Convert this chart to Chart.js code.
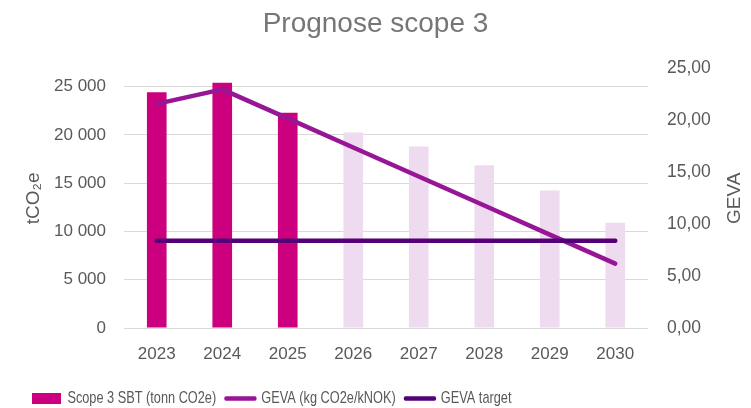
<!DOCTYPE html>
<html>
<head>
<meta charset="utf-8">
<script src="https://cdn.jsdelivr.net/npm/chart.js@4"></script>
<style>
  body { margin: 0; background: #fff; }
  #wrap { width: 751px; height: 408px; }
</style>
</head>
<body>
<div id="wrap"><canvas id="myChart" width="751" height="408"></canvas></div>
<script>
const years = ['2023', '2024', '2025', '2026', '2027', '2028', '2029', '2030'];
const scope3 = [24400, 25400, 22300, 20250, 18800, 16850, 14250, 10900];
const geva = [21.6, 23.0, 20.2, 17.4, 14.6, 11.8, 9.0, 6.2];
const gevaTarget = [8.4, 8.4, 8.4, 8.4, 8.4, 8.4, 8.4, 8.4];
const actualYears = 3; // first three bars are actual figures, rest is forecast
const leftTicks = [0, 5000, 10000, 15000, 20000, 25000];

const darkPink = 'rgb(204, 0, 126)';
const lightPink = 'rgb(239, 219, 239)';
const gevaColor = 'rgb(150, 22, 150)';
const targetColor = 'rgb(84, 0, 120)';
const grey = '#595959';
const mainFont = '"Liberation Sans", Arial, sans-serif';

// legend in the original is a narrow font, squeeze it sideways
const legendScale = 0.75;
const legendLeft = 32;
const legendShift = 9;

function thousands(v) {
  return String(v).replace(/\B(?=(\d{3})+(?!\d))/g, ' ');
}

const barColors = years.map((y, i) => i < actualYears ? darkPink : lightPink);

const narrowLegend = {
  id: 'narrowLegend',
  beforeDraw(chart) {
    const legend = chart.legend;
    if (!legend || legend._narrow) return;
    const orig = legend.draw.bind(legend);
    const pad = chart.options.plugins.legend.labels.padding;
    legend.draw = function (area) {
      const c = chart.ctx;
      c.save();
      c.translate(legendLeft - legendScale * (legend.left + pad), legendShift);
      c.scale(legendScale, 1);
      orig(area);
      c.restore();
    };
    legend._narrow = true;
  },
  afterDraw(chart) {
    // right axis title reads bottom to top like the left one
    const c = chart.ctx;
    const area = chart.chartArea;
    c.save();
    c.translate(735, (area.top + area.bottom) / 2);
    c.rotate(-Math.PI / 2);
    c.textAlign = 'center';
    c.textBaseline = 'middle';
    c.fillStyle = grey;
    c.font = '19px ' + mainFont;
    c.fillText('GEVA', 0, 0);
    c.restore();
  }
};

const ctx = document.getElementById('myChart');
const myChart = new Chart(ctx, {
  type: 'bar',
  data: {
    labels: years,
    datasets: [
      {
        label: 'Scope 3 SBT (tonn CO2e)',
        data: scope3,
        backgroundColor: barColors,
        yAxisID: 'y',
        barPercentage: 0.6,
        categoryPercentage: 0.5,
        order: 3
      },
      {
        type: 'line',
        label: 'GEVA (kg CO2e/kNOK)',
        data: geva,
        borderColor: gevaColor,
        borderWidth: 4.5,
        borderCapStyle: 'round',
        borderJoinStyle: 'round',
        pointRadius: 0,
        yAxisID: 'y1',
        order: 2
      },
      {
        type: 'line',
        label: 'GEVA target',
        data: gevaTarget,
        borderColor: targetColor,
        borderWidth: 4.5,
        borderCapStyle: 'round',
        pointRadius: 0,
        yAxisID: 'y1',
        order: 1
      }
    ]
  },
  options: {
    responsive: false,
    animation: false,
    layout: { padding: { left: 0, right: 0, top: 0, bottom: 0 } },
    plugins: {
      tooltip: { enabled: false },
      title: {
        display: true,
        text: 'Prognose scope 3',
        color: '#767676',
        font: { family: mainFont, size: 28, weight: 'normal' },
        padding: { top: 7, bottom: 28 }
      },
      legend: {
        position: 'bottom',
        align: 'start',
        labels: {
          color: grey,
          font: { family: mainFont, size: 17 },
          usePointStyle: true,
          pointStyleWidth: 29 / legendScale,
          boxWidth: 29 / legendScale,
          boxHeight: 11,
          padding: 13,
          generateLabels: function (chart) {
            return chart.data.datasets.map((ds, i) => ({
              text: ds.label,
              datasetIndex: i,
              fillStyle: i === 0 ? darkPink : ds.borderColor,
              strokeStyle: i === 0 ? darkPink : ds.borderColor,
              lineWidth: i === 0 ? 0 : 4.5,
              lineCap: 'round',
              pointStyle: i === 0 ? 'rect' : 'line',
              fontColor: grey,
              hidden: false
            }));
          }
        }
      }
    },
    scales: {
      x: {
        grid: { display: false },
        border: { display: false },
        ticks: { color: grey, font: { family: mainFont, size: 17 }, padding: 8 },
        afterFit: function (scale) { scale.height = 40; }
      },
      y: {
        position: 'left',
        min: 0,
        max: 26860,
        afterBuildTicks: function (scale) {
          scale.ticks = leftTicks.map(v => ({ value: v }));
        },
        grid: { color: '#d9d9d9', lineWidth: 1, drawTicks: false },
        border: { display: false },
        ticks: {
          color: grey,
          font: { family: mainFont, size: 17 },
          padding: 18,
          callback: v => thousands(v)
        },
        title: {
          display: true,
          text: 'tCO₂e',
          color: grey,
          font: { family: mainFont, size: 19 },
          padding: { top: 22, bottom: 0 }
        },
        afterFit: function (scale) { scale.width = 124; }
      },
      y1: {
        position: 'right',
        min: 0,
        max: 25,
        grid: { display: false, drawTicks: false },
        border: { display: false },
        ticks: {
          stepSize: 5,
          color: grey,
          font: { family: mainFont, size: 17.5 },
          padding: 19,
          callback: v => v.toFixed(2).replace('.', ',')
        },
        afterFit: function (scale) { scale.width = 103; }
      }
    }
  },
  plugins: [narrowLegend]
});
</script>
</body>
</html>
